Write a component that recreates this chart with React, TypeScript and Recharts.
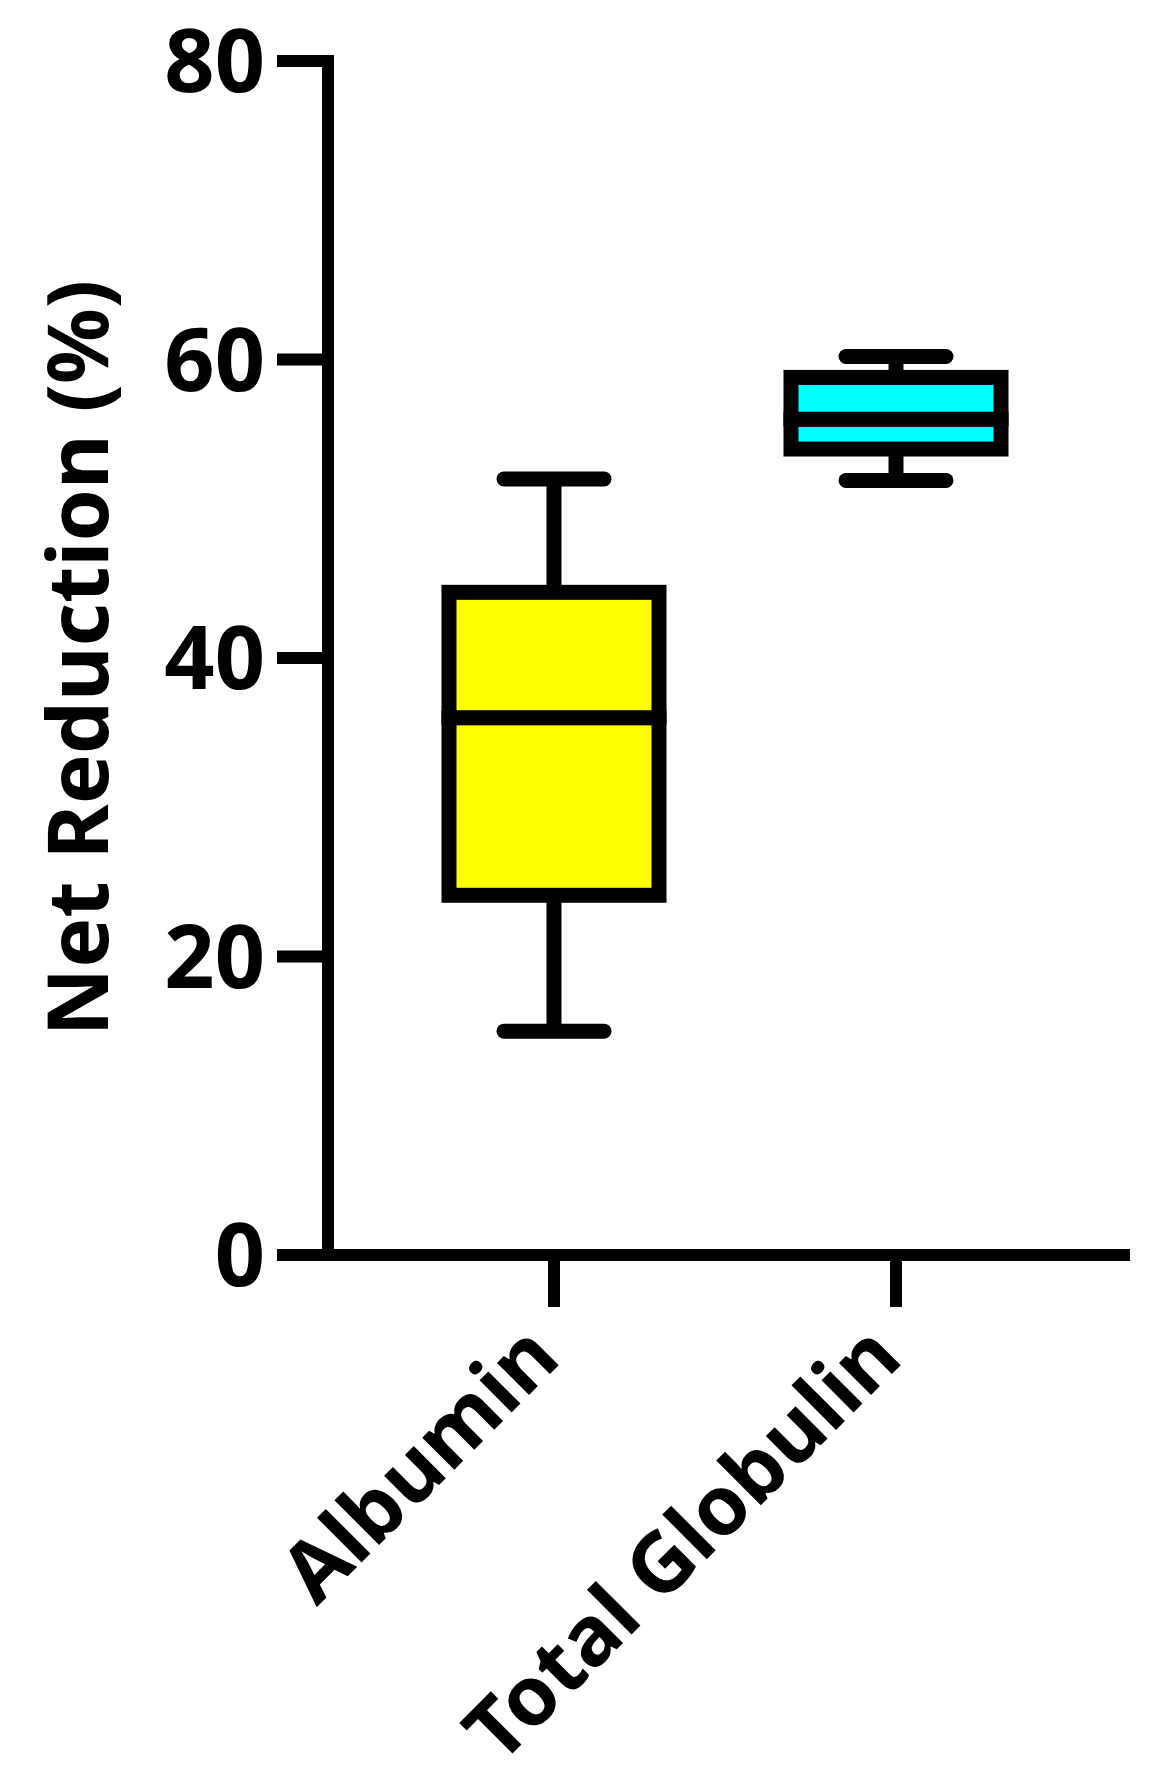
import { BarChart, Bar, XAxis, YAxis } from 'recharts'

// box plot summary per group (Net Reduction %)
const categories = ['Albumin', 'Total Globulin']
const minValues = [15, 51.9]
const q1Values = [24.1, 54]
const medianValues = [36, 56]
const q3Values = [44.4, 58.8]
const maxValues = [52, 60.2]
const boxColors = ['#FFFF00', '#00FFFF']
const yTicks = [0, 20, 40, 60, 80]

const FONT = "'Noto Sans', 'Open Sans', sans-serif"
const LINE = 15

// stacked pieces so every edge comes from the y scale
const data = categories.map((name, i) => ({
  name,
  base: minValues[i],
  lowerWhisker: q1Values[i] - minValues[i],
  lowerBox: medianValues[i] - q1Values[i],
  upperBox: q3Values[i] - medianValues[i],
  upperWhisker: maxValues[i] - q3Values[i],
}))

function Empty() {
  return <g />
}

function whisker(end: 'top' | 'bottom') {
  return (props: any) => {
    const { x, y, width, height } = props
    const cx = x + width / 2
    const capY = end === 'top' ? y : y + height
    const innerY = end === 'top' ? y + height : y
    return (
      <g>
        <line x1={cx} x2={cx} y1={capY} y2={innerY} stroke="#000" strokeWidth={LINE} />
        <line x1={cx - 50} x2={cx + 50} y1={capY} y2={capY} stroke="#000" strokeWidth={LINE} strokeLinecap="round" />
      </g>
    )
  }
}

function BoxShape(props: any) {
  const { x, y, width, height, index } = props
  return (
    <rect
      x={x}
      y={y}
      width={width}
      height={height}
      fill={boxColors[index]}
      stroke="#000"
      strokeWidth={LINE}
      strokeLinejoin="miter"
    />
  )
}

function XTick(props: any) {
  const { x, y, payload } = props
  return (
    <g transform={`translate(${x + 9},${y + 52})`}>
      <text
        textAnchor="end"
        transform="rotate(-45)"
        fontSize={83}
        fontWeight={700}
        fontFamily={FONT}
        fill="#000"
      >
        {payload.value}
      </text>
    </g>
  )
}

function YLabel(props: any) {
  const { viewBox } = props
  const lx = viewBox.x + 108
  const ly = viewBox.y + viewBox.height / 2
  return (
    <text
      x={lx}
      y={ly}
      transform={`rotate(-90, ${lx}, ${ly})`}
      textAnchor="middle"
      fontSize={84}
      fontWeight={700}
      fontFamily={FONT}
      fill="#000"
    >
      Net Reduction (%)
    </text>
  )
}

export default function App() {
  return (
    <div>
      <style>{'body{margin:0;background:#fff}'}</style>
      <BarChart
        width={1161}
        height={1790}
        data={data}
        margin={{ top: 61, right: 31, left: 0, bottom: 0 }}
      >
        <XAxis
          dataKey="name"
          type="category"
          height={535}
          padding={{ left: 55, right: 63 }}
          tickSize={52}
          interval={0}
          axisLine={{ stroke: '#000', strokeWidth: 12 }}
          tickLine={{ stroke: '#000', strokeWidth: 12 }}
          tick={<XTick />}
        />
        <YAxis
          type="number"
          domain={[0, 80]}
          ticks={yTicks}
          interval={0}
          width={328}
          tickSize={51}
          tickMargin={12}
          axisLine={{ stroke: '#000', strokeWidth: 12, strokeLinecap: 'square' }}
          tickLine={{ stroke: '#000', strokeWidth: 12 }}
          tick={{ fill: '#000', fontSize: 88, fontWeight: 700, fontFamily: FONT }}
          label={<YLabel />}
        />
        <Bar dataKey="base" stackId="box" barSize={210} shape={<Empty />} isAnimationActive={false} />
        <Bar dataKey="lowerWhisker" stackId="box" barSize={210} shape={whisker('bottom')} isAnimationActive={false} />
        <Bar dataKey="lowerBox" stackId="box" barSize={210} shape={<BoxShape />} isAnimationActive={false} />
        <Bar dataKey="upperBox" stackId="box" barSize={210} shape={<BoxShape />} isAnimationActive={false} />
        <Bar dataKey="upperWhisker" stackId="box" barSize={210} shape={whisker('top')} isAnimationActive={false} />
      </BarChart>
    </div>
  )
}
